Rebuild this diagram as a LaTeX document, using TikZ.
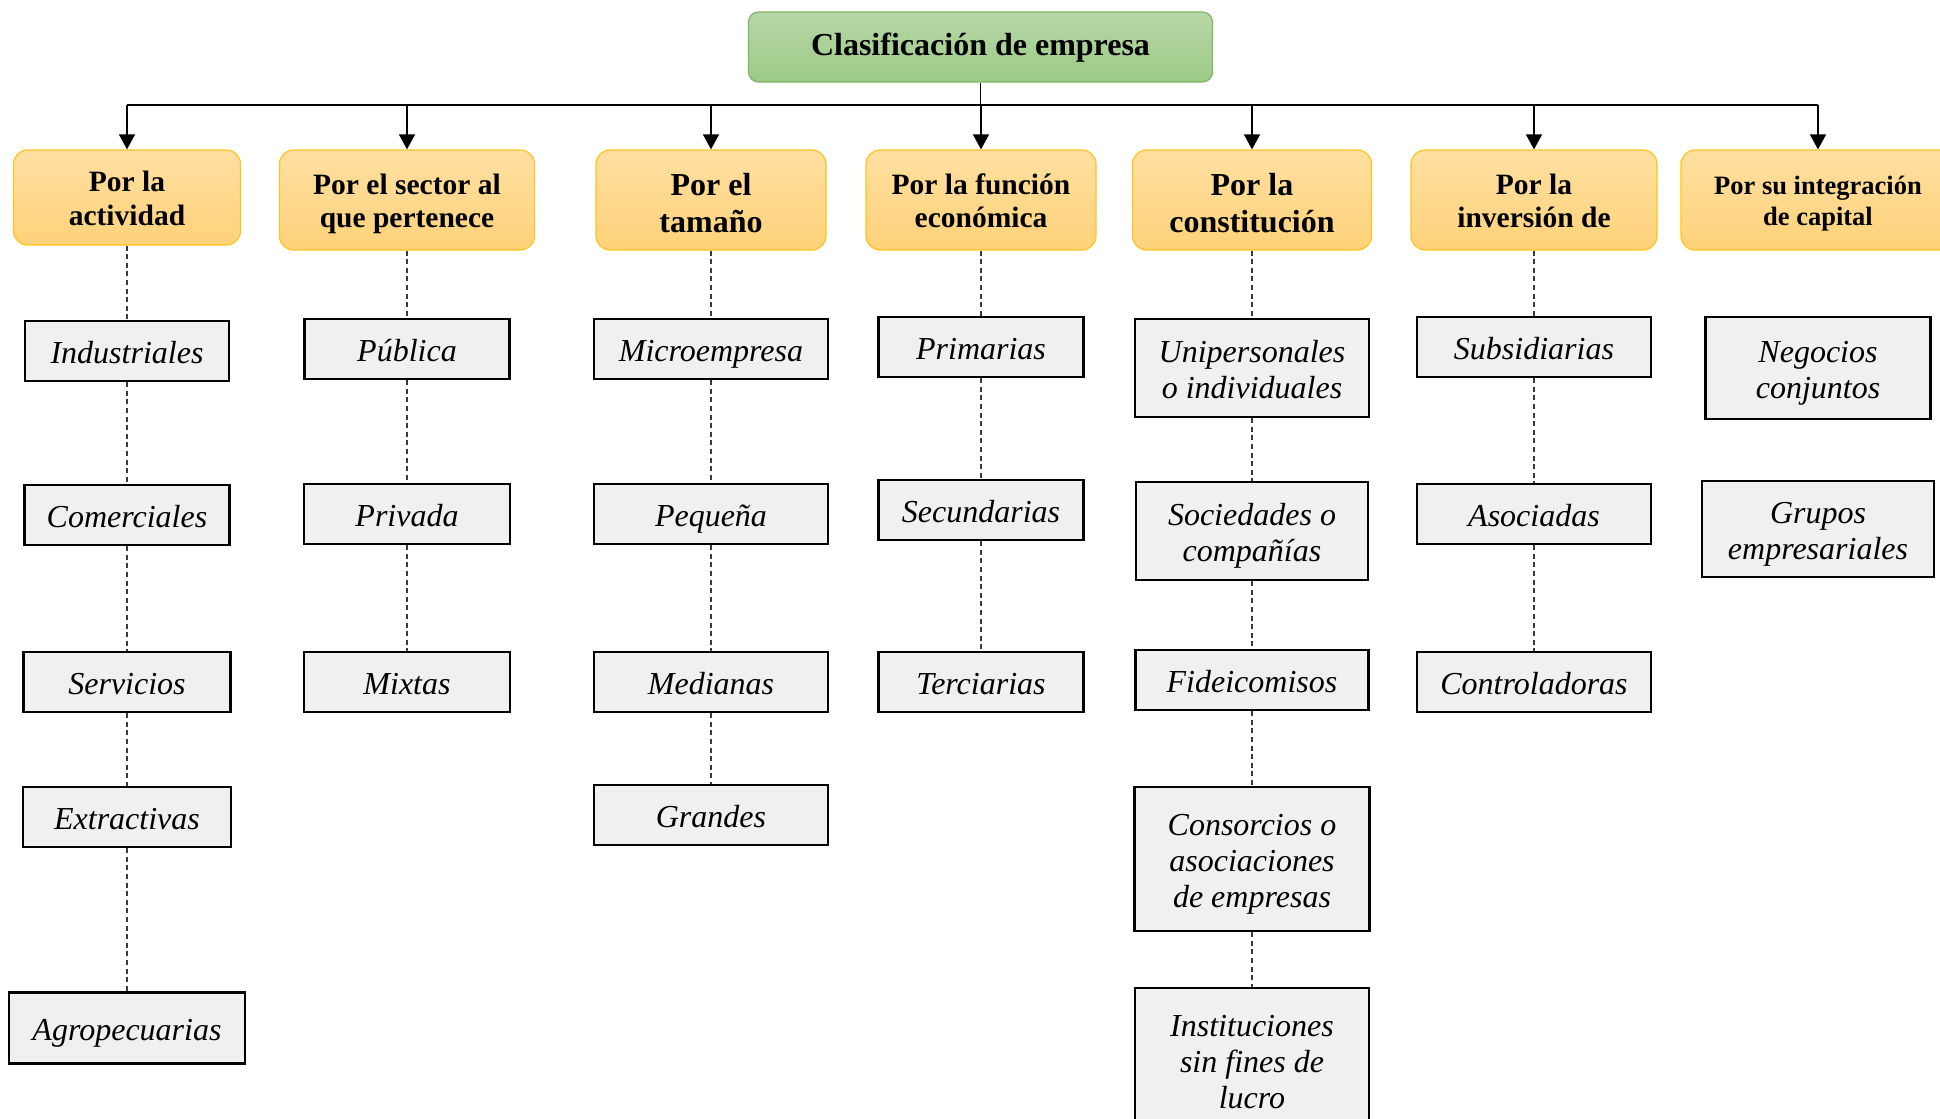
\documentclass[tikz,border=0pt]{standalone}
\usepackage{fontspec}
\setmainfont{Liberation Serif}
\usetikzlibrary{arrows.meta}

\definecolor{titleTop}{HTML}{B6D7A6}
\definecolor{titleBot}{HTML}{9DCA88}
\definecolor{titleLine}{HTML}{82B366}
\definecolor{hdrTop}{HTML}{FFDFA1}
\definecolor{hdrBot}{HTML}{FFD27A}
\definecolor{hdrLine}{HTML}{FFC41F}
\definecolor{leafFill}{HTML}{F0F0F0}
\definecolor{dashGray}{HTML}{3A3A3A}

\begin{document}
\begin{tikzpicture}[
  x=0.5pt, y=-0.5pt,
  title/.style={draw=titleLine, line width=0.6pt, rounded corners=5pt,
    top color=titleTop, bottom color=titleBot,
    minimum width=232pt, minimum height=35pt, inner sep=0pt,
    text height=8.5pt, text depth=0pt,
    font=\fontsize{16}{18.5}\selectfont\bfseries},
  % two-line header texts: box height runs from the first line's top to the last baseline
  hdr/.style={draw=hdrLine, line width=0.6pt, rounded corners=7pt,
    top color=hdrTop, bottom color=hdrBot,
    minimum height=50pt, inner sep=0pt, align=center,
    text height=27.8pt, text depth=0pt,
    font=\fontsize{14.75}{16.7}\selectfont\bfseries},
  hbig/.style={text height=32.3pt, text depth=0pt,
    font=\fontsize{16}{18.5}\selectfont\bfseries},
  hsmall/.style={text height=25.7pt, text depth=0pt,
    font=\fontsize{13.25}{15.5}\selectfont\bfseries},
  leaf/.style={draw=black, line width=1.2pt, fill=leafFill,
    inner sep=0pt, align=center, minimum height=30pt,
    text height=12.5pt, text depth=0pt,
    font=\fontsize{16}{18}\selectfont\itshape},
  twolines/.style={text height=30.5pt},
  threelines/.style={text height=48.5pt},
  bus/.style={draw=black, line width=0.65pt},
  busarrow/.style={bus, -{Triangle[width=8pt,length=7.5pt]}},
  dotlink/.style={draw=dashGray, line width=0.6pt, dash pattern=on 2.5pt off 1.8pt},
]
\useasboundingbox (0,0) rectangle (1940,1119);

% root
\node[title] (ttl) at (980.5,47) {Clasificación de empresa};

% classification criteria
\node[hdr, minimum width=113.5pt, minimum height=47.5pt] (h1) at (127,197.5) {Por la\\actividad};
\node[hdr, minimum width=127.5pt] (h2) at (407,200) {Por el sector al\\que pertenece};
\node[hdr, hbig, minimum width=115pt] (h3) at (711,200) {Por el\\tamaño};
\node[hdr, minimum width=115pt] (h4) at (981,200) {Por la función\\económica};
\node[hdr, hbig, minimum width=119.5pt] (h5) at (1252,200) {Por la\\constitución};
\node[hdr, minimum width=123pt] (h6) at (1534,200) {Por la\\inversión de};
\node[hdr, hsmall, minimum width=137pt] (h7) at (1818,200) {Por su integración\\de capital};

% distribution bar with arrows
\coordinate (busL) at (127,105);
\draw[bus] (ttl.south) -- (ttl.south |- busL);
\draw[bus] (h1.north |- busL) -- (h7.north |- busL);
\foreach \h in {h1,h2,h3,h4,h5,h6,h7}
  \draw[busarrow] (\h.north |- busL) -- (\h.north);

% por la actividad
\node[leaf, minimum width=102pt]   (ind) at (127,351)  {Industriales};
\node[leaf, minimum width=102.5pt] (com) at (127,515)  {Comerciales};
\node[leaf, minimum width=103.5pt] (ser) at (127,682)  {Servicios};
\node[leaf, minimum width=104pt]   (ext) at (127,817)  {Extractivas};
\node[leaf, minimum width=118pt, minimum height=35.5pt] (agr) at (127,1028) {Agropecuarias};
\draw[dotlink] (h1) -- (ind) -- (com) -- (ser) -- (ext) -- (agr);

% por el sector
\node[leaf, minimum width=102.5pt] (pub) at (407,349) {Pública};
\node[leaf, minimum width=103pt]   (pri) at (407,514) {Privada};
\node[leaf, minimum width=103pt]   (mix) at (407,682) {Mixtas};
\draw[dotlink] (h2) -- (pub) -- (pri) -- (mix);

% por el tamaño
\node[leaf, minimum width=117pt] (mic) at (711,349) {Microempresa};
\node[leaf, minimum width=117pt] (peq) at (711,514) {Pequeña};
\node[leaf, minimum width=117pt] (med) at (711,682) {Medianas};
\node[leaf, minimum width=117pt] (gra) at (711,815) {Grandes};
\draw[dotlink] (h3) -- (mic) -- (peq) -- (med) -- (gra);

% por la función económica
\node[leaf, minimum width=102.5pt] (prm) at (981,347) {Primarias};
\node[leaf, minimum width=102.5pt] (sec) at (981,510) {Secundarias};
\node[leaf, minimum width=102.5pt] (ter) at (981,682) {Terciarias};
\draw[dotlink] (h4) -- (prm) -- (sec) -- (ter);

% por la constitución
\node[leaf, twolines, minimum width=117pt, minimum height=49pt] (uni) at (1252,368) {Unipersonales\\o individuales};
\node[leaf, twolines, minimum width=116pt, minimum height=49pt] (soc) at (1252,531) {Sociedades o\\compañías};
\node[leaf, minimum width=116.5pt] (fid) at (1252,680) {Fideicomisos};
\node[leaf, threelines, minimum width=117.5pt, minimum height=72pt] (cns) at (1252,859) {Consorcios o\\asociaciones\\de empresas};
\node[leaf, threelines, minimum width=117pt, minimum height=72pt] (ins) at (1252,1060) {Instituciones\\sin fines de\\lucro};
\draw[dotlink] (h5) -- (uni) -- (soc) -- (fid) -- (cns) -- (ins);

% por la inversión
\node[leaf, minimum width=117pt] (sub) at (1534,347) {Subsidiarias};
\node[leaf, minimum width=117pt] (aso) at (1534,514) {Asociadas};
\node[leaf, minimum width=117pt] (ctl) at (1534,682) {Controladoras};
\draw[dotlink] (h6) -- (sub) -- (aso) -- (ctl);

% por su integración de capital
\node[leaf, twolines, minimum width=112.5pt, minimum height=51pt] (neg) at (1818,368) {Negocios\\conjuntos};
\node[leaf, twolines, minimum width=116pt, minimum height=48pt] (gru) at (1818,529) {Grupos\\empresariales};
\end{tikzpicture}
\end{document}
